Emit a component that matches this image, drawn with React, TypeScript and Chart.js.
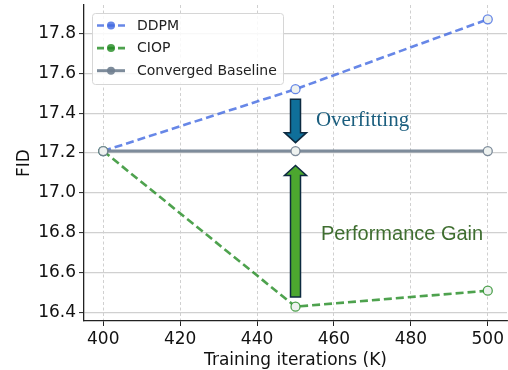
import React, { useEffect, useRef } from "react";
import { Chart, registerables } from "chart.js";
Chart.register(...registerables);

const iterations = [400, 450, 500];
const ddpmFID = [17.21, 17.52, 17.87];
const ciopFID = [17.21, 16.43, 16.51];
const baselineFID = [17.21, 17.21, 17.21];
const xTickValues = [400, 420, 440, 460, 480, 500];
const yTickValues = [16.4, 16.6, 16.8, 17.0, 17.2, 17.4, 17.6, 17.8];
const seriesLabels = ["DDPM", "CIOP", "Converged Baseline"];
const xTitle = "Training iterations (K)";
const yTitle = "FID";
// annotation arrows (data units): [x, fromY, toY]
const overfitArrow = [450, 17.47, 17.252];
const gainArrow = [450, 16.478, 17.138];
const overfitLabel = { text: "Overfitting", x: 455.3, y: 17.365 };
const gainLabel = { text: "Performance Gain", x: 456.6, y: 16.79 };

const FONT = "'DejaVu Sans'";
const colors = {
  ddpm: "rgba(65,105,225,0.8)",
  ciop: "rgba(34,139,34,0.8)",
  base: "rgba(112,128,144,0.9)",
};
const markerFill = "#eef2f0";

function drawArrow(ctx: CanvasRenderingContext2D, x: number, y0: number, y1: number, fill: string) {
  const dir = y1 > y0 ? 1 : -1;
  const bodyHalf = 5;
  const headHalf = 11;
  const headLen = 10;
  const yb = y1 - dir * headLen;
  ctx.save();
  ctx.beginPath();
  ctx.moveTo(x - bodyHalf, y0);
  ctx.lineTo(x + bodyHalf, y0);
  ctx.lineTo(x + bodyHalf, yb);
  ctx.lineTo(x + headHalf, yb);
  ctx.lineTo(x, y1);
  ctx.lineTo(x - headHalf, yb);
  ctx.lineTo(x - bodyHalf, yb);
  ctx.closePath();
  ctx.fillStyle = fill;
  ctx.fill();
  ctx.lineWidth = 1.5;
  ctx.strokeStyle = "#0d2a40";
  ctx.lineJoin = "miter";
  ctx.stroke();
  ctx.restore();
}

const annotPlugin = {
  id: "annot",
  afterDatasetsDraw(chart: any) {
    const { ctx, scales } = chart;
    const xs = scales.x, ys = scales.y;
    drawArrow(ctx, xs.getPixelForValue(overfitArrow[0]), ys.getPixelForValue(overfitArrow[1]), ys.getPixelForValue(overfitArrow[2]), "#0f6f9a");
    drawArrow(ctx, xs.getPixelForValue(gainArrow[0]), ys.getPixelForValue(gainArrow[1]), ys.getPixelForValue(gainArrow[2]), "#4ca72f");
    ctx.save();
    ctx.textBaseline = "middle";
    ctx.textAlign = "left";
    ctx.fillStyle = "#1b5e7e";
    ctx.font = "21px 'Liberation Serif'";
    ctx.fillText(overfitLabel.text, xs.getPixelForValue(overfitLabel.x), ys.getPixelForValue(overfitLabel.y));
    ctx.fillStyle = "#3f6e30";
    ctx.font = "20px 'Liberation Sans'";
    ctx.fillText(gainLabel.text, xs.getPixelForValue(gainLabel.x), ys.getPixelForValue(gainLabel.y));
    ctx.restore();
  },
  afterDraw(chart: any) {
    const { ctx, chartArea } = chart;
    const bx = chartArea.left + 8, by = chartArea.top + 8, bw = 191, bh = 71;
    ctx.save();
    ctx.beginPath();
    (ctx as any).roundRect(bx + 0.5, by + 0.5, bw, bh, 3);
    ctx.fillStyle = "rgba(255,255,255,0.85)";
    ctx.fill();
    ctx.strokeStyle = "#d6d6d6";
    ctx.lineWidth = 1;
    ctx.stroke();
    const entries = [
      { c: colors.ddpm, dash: [7, 3.5], w: 2.6 },
      { c: colors.ciop, dash: [7, 3.5], w: 2.6 },
      { c: colors.base, dash: [], w: 3 },
    ];
    entries.forEach((e, i) => {
      const y = by + 12.5 + i * 22.6;
      ctx.beginPath();
      ctx.setLineDash(e.dash);
      ctx.strokeStyle = e.c;
      ctx.lineWidth = e.w;
      ctx.moveTo(bx + 5, y);
      ctx.lineTo(bx + 33, y);
      ctx.stroke();
      ctx.setLineDash([]);
      ctx.beginPath();
      ctx.arc(bx + 19, y, 4, 0, Math.PI * 2);
      ctx.fillStyle = e.c;
      ctx.fill();
      ctx.fillStyle = "#222";
      ctx.font = `14px ${FONT}`;
      ctx.textBaseline = "middle";
      ctx.textAlign = "left";
      ctx.fillText(seriesLabels[i], bx + 45, y + 0.5);
    });
    ctx.restore();
  },
};

export default function App() {
  const ref = useRef<HTMLCanvasElement>(null);
  useEffect(() => {
    const toXY = (ys: number[]) => iterations.map((x, i) => ({ x, y: ys[i] }));
    const chart = new Chart(ref.current!, {
      type: "line",
      data: {
        datasets: [
          {
            label: seriesLabels[0], data: toXY(ddpmFID), borderColor: colors.ddpm, borderWidth: 2.6,
            borderDash: [8, 4], pointRadius: 4.5, pointBackgroundColor: markerFill, pointBorderColor: colors.ddpm,
            pointBorderWidth: 1.3, order: 2, tension: 0,
          },
          {
            label: seriesLabels[1], data: toXY(ciopFID), borderColor: colors.ciop, borderWidth: 2.6,
            borderDash: [8, 4], pointRadius: 4.5, pointBackgroundColor: markerFill, pointBorderColor: colors.ciop,
            pointBorderWidth: 1.3, order: 1, tension: 0,
          },
          {
            label: seriesLabels[2], data: toXY(baselineFID), borderColor: colors.base, borderWidth: 3,
            pointRadius: 4.5, pointBackgroundColor: markerFill, pointBorderColor: colors.base,
            pointBorderWidth: 1.3, order: 0, tension: 0,
          },
        ],
      },
      options: {
        animation: false,
        responsive: false,
        devicePixelRatio: 1,
        layout: { autoPadding: false, padding: { left: 0, right: 1, top: 5, bottom: 0 } },
        plugins: { legend: { display: false }, tooltip: { enabled: false } },
        scales: {
          x: {
            type: "linear", min: 395, max: 505,
            afterBuildTicks: (s: any) => { s.ticks = xTickValues.map((v) => ({ value: v })); },
            afterFit: (s: any) => { s.height = 49; s.paddingLeft = 0; s.paddingRight = 0; },
            ticks: { color: "#111", font: { family: "DejaVu Sans", size: 17 }, padding: 3, maxRotation: 0, callback: (v: any) => String(v) },
            grid: { color: "#c4c4c4", lineWidth: 0.8, tickLength: 5, tickColor: "#222", tickWidth: 1 },
            border: { display: true, color: "#222", width: 1.3, dash: [3, 2.5] },
            title: { display: true, text: xTitle, color: "#111", font: { family: "DejaVu Sans", size: 17 }, padding: -1 },
          },
          y: {
            type: "linear", min: 16.358, max: 17.942,
            afterBuildTicks: (s: any) => { s.ticks = yTickValues.map((v) => ({ value: v })); },
            afterFit: (s: any) => { s.width = 84; s.paddingTop = 0; s.paddingBottom = 0; },
            ticks: { color: "#111", font: { family: "DejaVu Sans", size: 17 }, padding: 3, callback: (v: any) => Number(v).toFixed(1) },
            grid: { color: "#d0d0d0", lineWidth: 1.2, tickLength: 5, tickColor: "#222", tickWidth: 1 },
            border: { display: true, color: "#222", width: 1.3 },
            title: { display: true, text: yTitle, color: "#111", font: { family: "DejaVu Sans", size: 17 }, padding: 14 },
          },
        },
      },
      plugins: [annotPlugin],
    } as any);
    return () => chart.destroy();
  }, []);
  return (
    <div style={{ position: "fixed", left: 0, top: 0, width: 508, height: 370, background: "#fff" }}>
      <canvas ref={ref} width={508} height={370} style={{ width: 508, height: 370, display: "block" }} />
    </div>
  );
}
